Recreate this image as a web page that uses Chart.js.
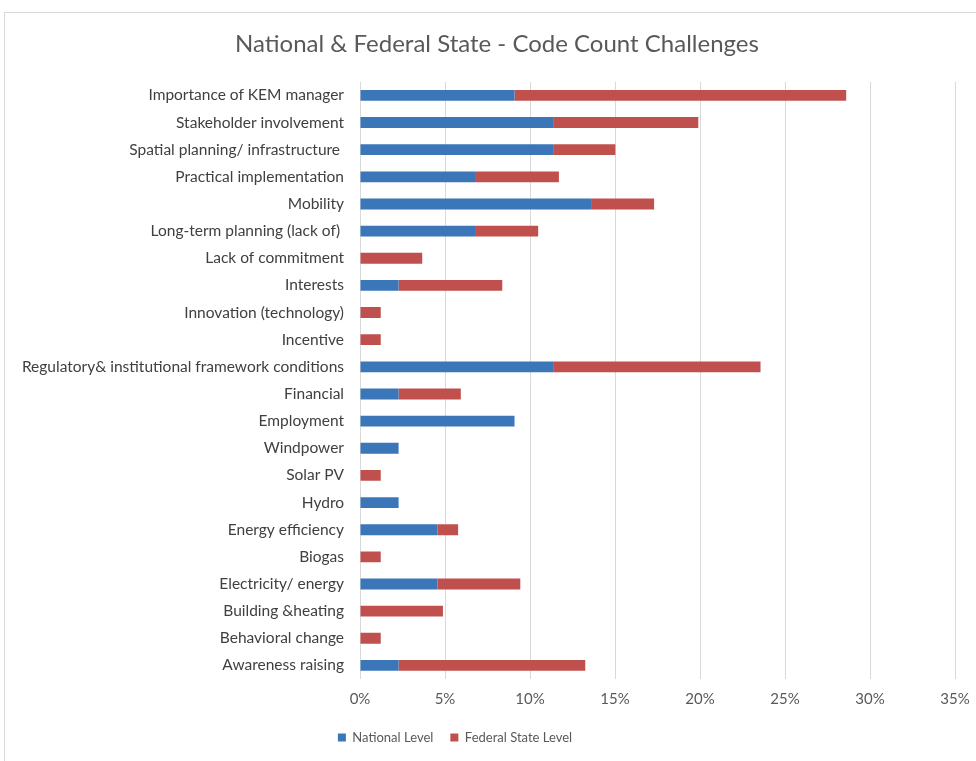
<!DOCTYPE html>
<html>
<head>
<meta charset="utf-8">
<script src="https://cdn.jsdelivr.net/npm/chart.js@4"></script>
<style>
  html, body { margin: 0; padding: 0; background: #fff; overflow: hidden; }
  #box {
    position: absolute; left: 4px; top: 12px;
    width: 984px; height: 760px;
    border: 1px solid #d9d9d9;
  }
</style>
</head>
<body>
<div id="box"><canvas id="chart"></canvas></div>
<script>
// categories, top to bottom
const categories = [
  'Importance of KEM manager',
  'Stakeholder involvement',
  'Spatial planning/ infrastructure ',
  'Practical implementation',
  'Mobility',
  'Long-term planning (lack of) ',
  'Lack of commitment',
  'Interests',
  'Innovation (technology)',
  'Incentive',
  'Regulatory& institutional framework conditions',
  'Financial',
  'Employment',
  'Windpower',
  'Solar PV',
  'Hydro',
  'Energy efficiency',
  'Biogas',
  'Electricity/ energy',
  'Building &heating',
  'Behavioral change',
  'Awareness raising'
];

// share of codes in percent
const nationalLevel = [9.09, 11.36, 11.36, 6.82, 13.64, 6.82, 0, 2.27, 0, 0, 11.36, 2.27, 9.09, 2.27, 0, 2.27, 4.55, 0, 4.55, 0, 0, 2.27];
const federalStateLevel = [19.51, 8.54, 3.66, 4.88, 3.66, 3.66, 3.66, 6.10, 1.22, 1.22, 12.20, 3.66, 0, 0, 1.22, 0, 1.22, 1.22, 4.88, 4.88, 1.22, 10.98];

const xTicks = [0, 5, 10, 15, 20, 25, 30, 35];

const fontFamily = 'Lato, "Open Sans", sans-serif';

// title sits a bit right and legend a bit left of the plot, like in the sheet
const blockShift = {
  id: 'blockShift',
  afterLayout(chart) {
    if (chart.titleBlock) {
      chart.titleBlock.left += 17;
      chart.titleBlock.right += 17;
    }
    if (chart.legend) {
      chart.legend.left -= 25;
      chart.legend.right -= 25;
    }
  }
};

new Chart(document.getElementById('chart'), {
  type: 'bar',
  data: {
    labels: categories,
    datasets: [
      {
        label: 'National Level',
        data: nationalLevel,
        backgroundColor: '#3b76b9',
        borderWidth: 0,
        categoryPercentage: 1,
        barPercentage: 0.4
      },
      {
        label: 'Federal State Level',
        data: federalStateLevel,
        backgroundColor: '#c0504d',
        borderWidth: 0,
        categoryPercentage: 1,
        barPercentage: 0.4
      }
    ]
  },
  options: {
    indexAxis: 'y',
    responsive: true,
    maintainAspectRatio: false,
    animation: false,
    layout: {
      padding: { left: 0, right: 34, top: 0, bottom: 19 }
    },
    scales: {
      x: {
        stacked: true,
        min: 0,
        max: 35,
        afterBuildTicks: (scale) => {
          scale.ticks = xTicks.map(v => ({ value: v }));
        },
        afterFit: (scale) => {
          scale.height = 35;
        },
        grid: {
          color: '#d9d9d9',
          drawTicks: false
        },
        border: { display: false },
        ticks: {
          padding: 11,
          color: '#595959',
          font: { family: fontFamily, size: 15 },
          callback: (value) => value + '%'
        }
      },
      y: {
        stacked: true,
        afterFit: (scale) => {
          scale.width = 355;
        },
        grid: { display: false, drawTicks: false },
        border: { display: false },
        ticks: {
          padding: 16,
          color: '#404040',
          font: { family: fontFamily, size: 15.5 }
        }
      }
    },
    plugins: {
      title: {
        display: true,
        text: 'National & Federal State - Code Count Challenges',
        color: '#595959',
        font: { family: fontFamily, size: 24, weight: 'normal' },
        padding: { top: 17, bottom: 23 }
      },
      legend: {
        position: 'bottom',
        labels: {
          boxWidth: 8,
          boxHeight: 8,
          padding: 17,
          color: '#595959',
          font: { family: fontFamily, size: 13 }
        }
      },
      tooltip: { enabled: false }
    }
  },
  plugins: [blockShift]
});
</script>
</body>
</html>
